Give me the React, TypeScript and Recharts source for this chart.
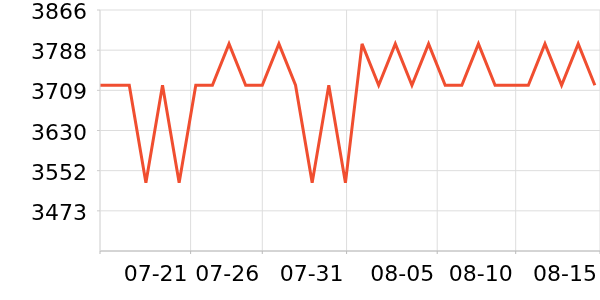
import React from 'react';
import { LineChart, Line, XAxis, YAxis, CartesianGrid } from 'recharts';

// position of each reading along the axis, in days from the left edge
const dayPos = [
  0, 1.76, 2.76, 3.76, 4.76, 5.76, 6.76, 7.76, 8.76, 9.76,
  10.76, 11.76, 12.76, 13.76, 14.76, 15.76, 16.76, 17.76, 18.76, 19.76,
  20.76, 21.76, 22.76, 23.76, 24.76, 25.76, 26.76, 27.76, 28.76, 29.76,
];
const values = [
  3719, 3719, 3528, 3719, 3528, 3719, 3719, 3800, 3719, 3719,
  3800, 3719, 3528, 3719, 3528, 3800, 3719, 3800, 3719, 3800,
  3719, 3719, 3800, 3719, 3719, 3719, 3800, 3719, 3800, 3719,
];
const xTicks = [0, 5.45, 9.76, 14.83, 20.28, 25.0, 30.07];
const xLabels = ['', '07-21', '07-26', '07-31', '08-05', '08-10', '08-15'];
const yTicks = [3473.2, 3551.8, 3630.4, 3709, 3787.6, 3866.2];

const data = dayPos.map((t, i) => ({ t, v: values[i] }));

const FONT = 'DejaVu Sans';

const XTick = (props: any) => {
  const { x, y, payload } = props;
  const idx = xTicks.indexOf(payload.value);
  const label = idx >= 0 ? xLabels[idx] : '';
  return (
    <text x={x - 3} y={y} dy={25} textAnchor="end" fontSize={22} fontFamily={FONT} fill="#000">
      {label}
    </text>
  );
};

const YTick = (props: any) => {
  const { x, y, payload } = props;
  return (
    <text x={x} y={y} dy={9} textAnchor="end" fontSize={22} fontFamily={FONT} fill="#000">
      {Math.round(payload.value)}
    </text>
  );
};

export default function App() {
  return (
    <div style={{ position: 'fixed', left: 0, top: 0 }}>
      <LineChart width={600} height={300} data={data} margin={{ top: 10, right: 0, bottom: 0, left: 0 }}>
        <CartesianGrid stroke="#dddddd" />
        <XAxis
          type="number"
          dataKey="t"
          domain={[0, 30.07]}
          ticks={xTicks}
          interval={0}
          height={49}
          tickSize={3}
          tickMargin={2}
          stroke="#bbbbbb"
          tick={<XTick />}
          allowDataOverflow
        />
        <YAxis
          type="number"
          domain={[3394.6, 3866.2]}
          ticks={yTicks}
          interval={0}
          width={100}
          tickSize={3}
          tickMargin={10}
          axisLine={{ stroke: '#dddddd' }}
          tickLine={{ stroke: '#cccccc' }}
          tick={<YTick />}
          allowDataOverflow
        />
        <Line
          type="linear"
          dataKey="v"
          stroke="#f04e30"
          strokeWidth={3}
          dot={false}
          isAnimationActive={false}
        />
      </LineChart>
    </div>
  );
}
